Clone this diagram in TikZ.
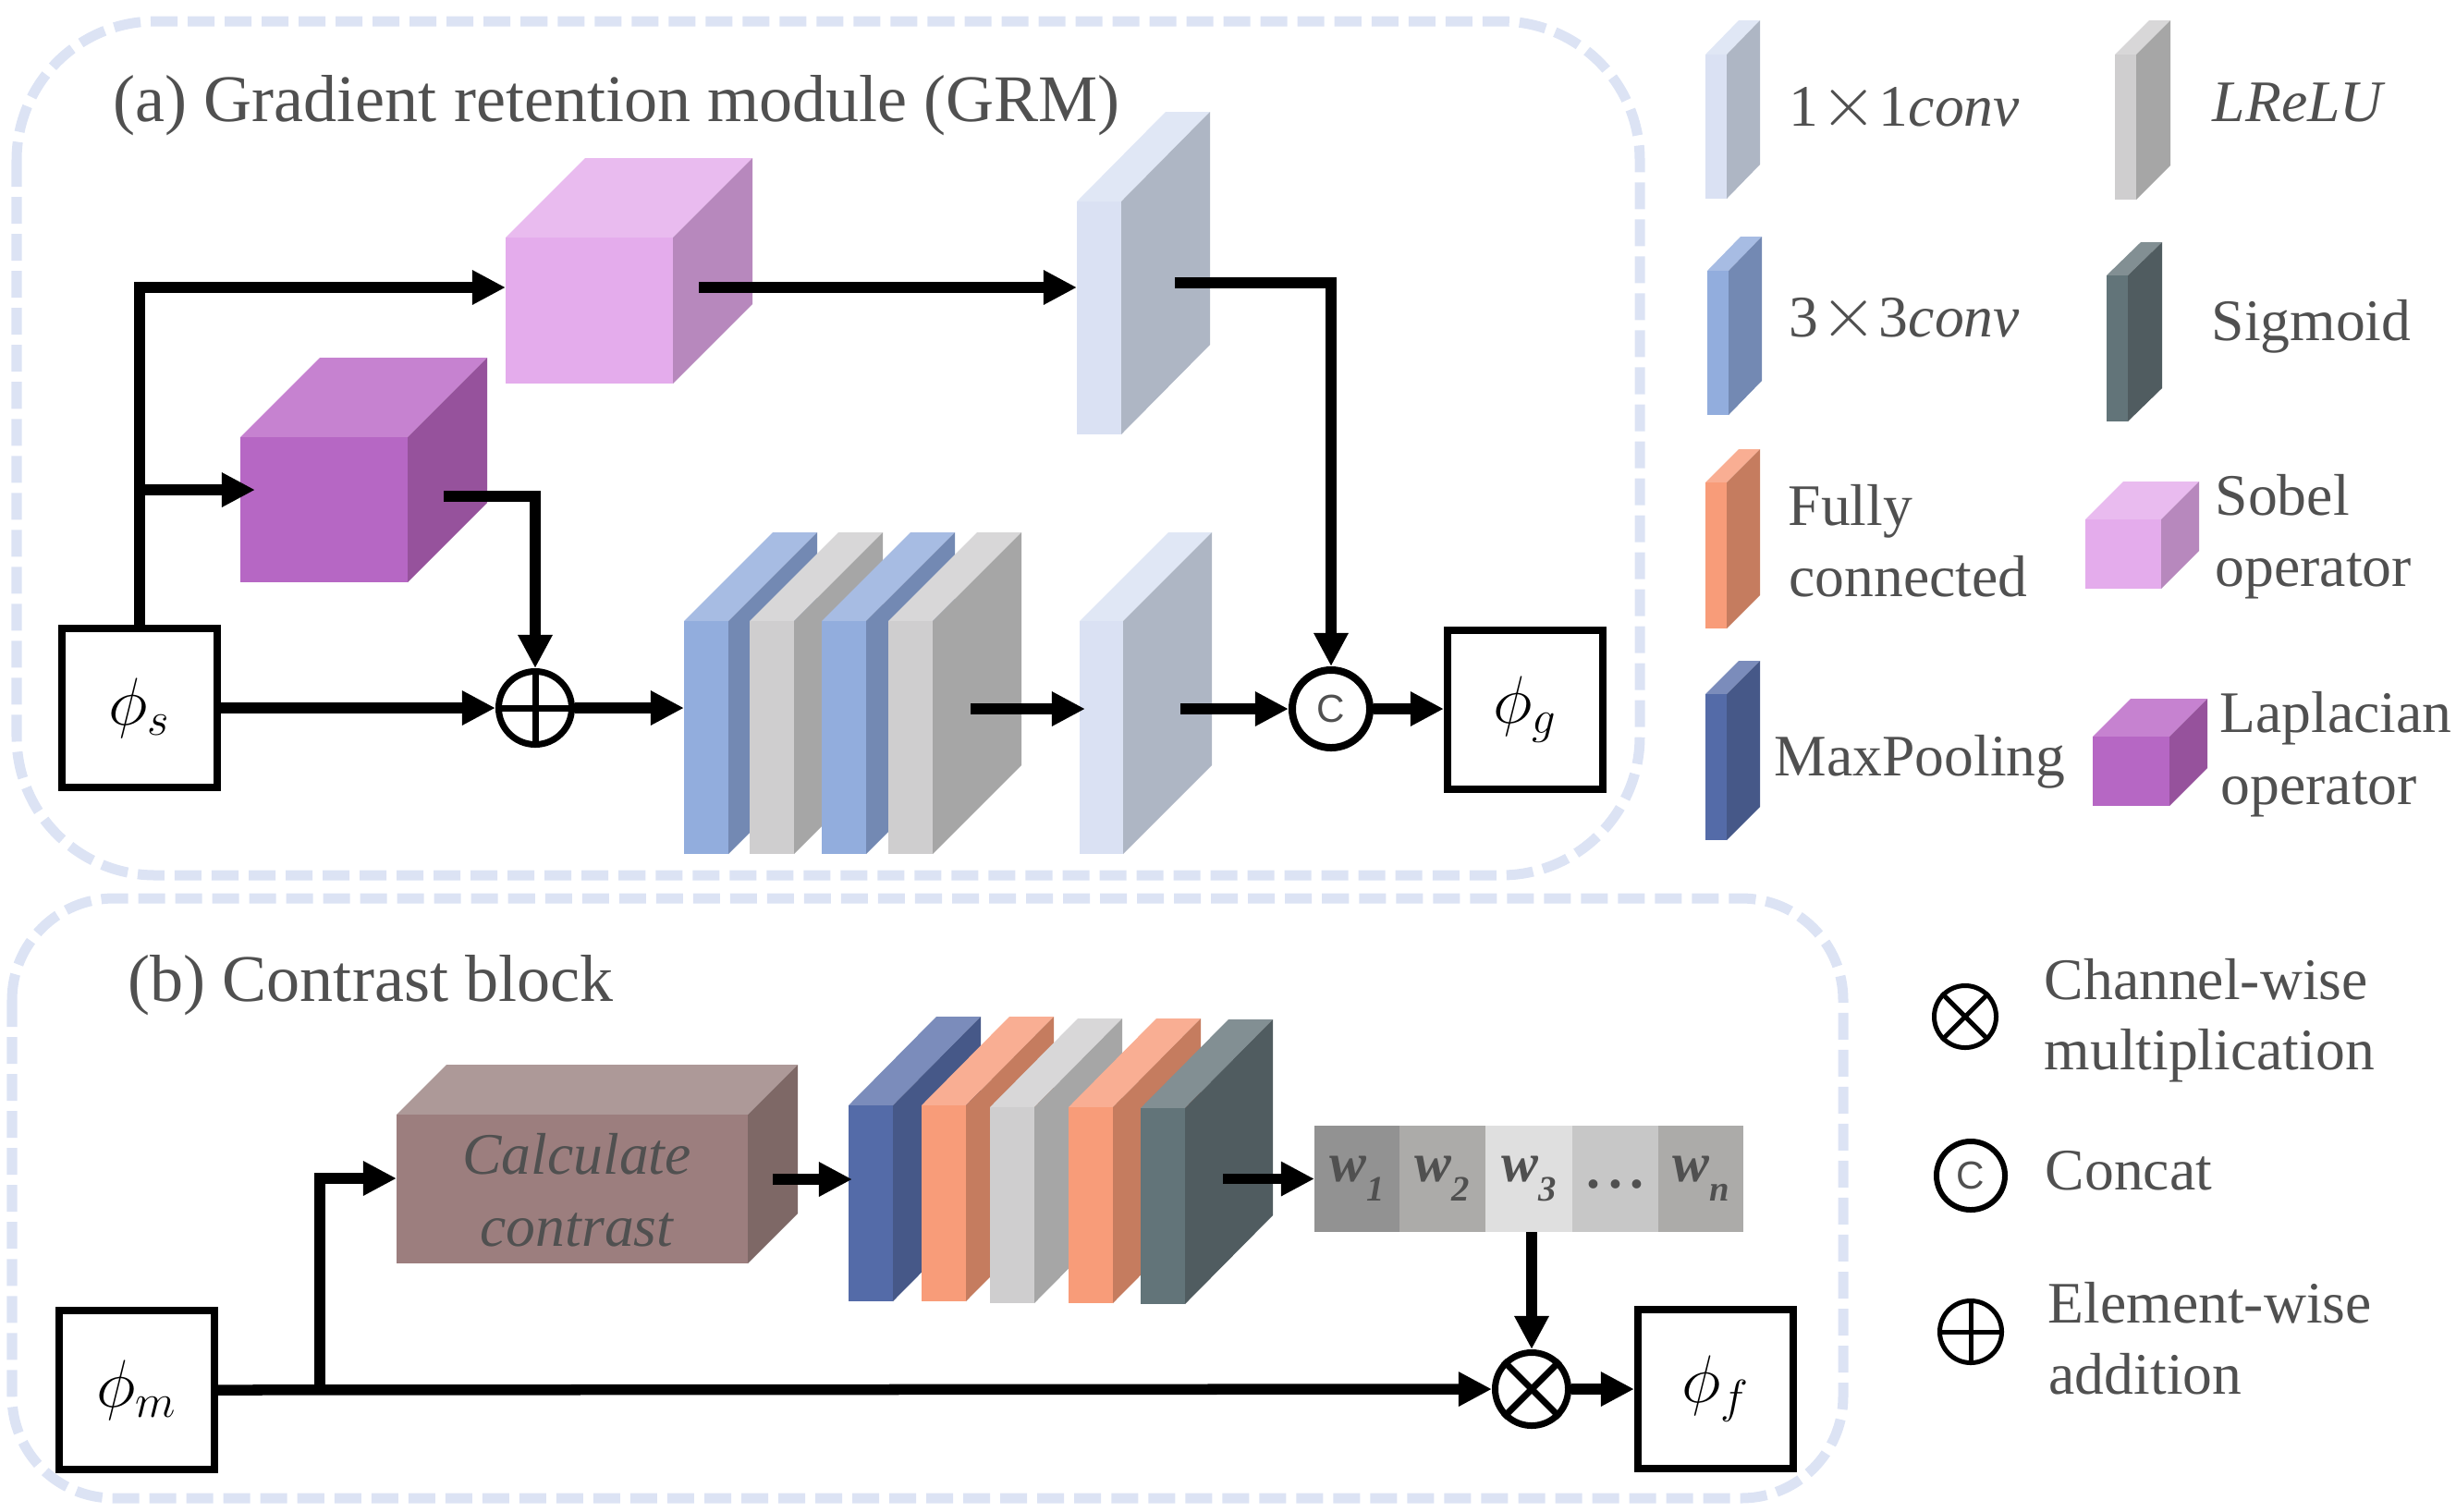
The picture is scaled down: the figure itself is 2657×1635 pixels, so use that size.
\documentclass[tikz,border=0pt]{standalone}
\usepackage{fontspec}
\setmainfont{Liberation Serif}
\setsansfont{Liberation Sans}
\usepackage{tikz}
\usetikzlibrary{arrows.meta}
\definecolor{labelgray}{HTML}{505050}
\definecolor{frameblue}{HTML}{DCE3F4}
\definecolor{oneonefront}{HTML}{DAE1F3}
\definecolor{oneonetop}{HTML}{E0E7F5}
\definecolor{oneoneside}{HTML}{AEB6C4}
\definecolor{threefront}{HTML}{92ADDD}
\definecolor{threetop}{HTML}{A7BCE3}
\definecolor{threeside}{HTML}{7389B3}
\definecolor{relufront}{HTML}{CFCECF}
\definecolor{relutop}{HTML}{D8D7D8}
\definecolor{reluside}{HTML}{A6A6A6}
\definecolor{sigfront}{HTML}{627479}
\definecolor{sigtop}{HTML}{828F93}
\definecolor{sigside}{HTML}{505C60}
\definecolor{fcfront}{HTML}{F89C79}
\definecolor{fctop}{HTML}{F9AE93}
\definecolor{fcside}{HTML}{C57C5F}
\definecolor{poolfront}{HTML}{546BA8}
\definecolor{pooltop}{HTML}{7B8CBB}
\definecolor{poolside}{HTML}{465888}
\definecolor{sobelfront}{HTML}{E4ACEC}
\definecolor{sobeltop}{HTML}{E9BBEF}
\definecolor{sobelside}{HTML}{B788BD}
\definecolor{lapfront}{HTML}{B667C4}
\definecolor{laptop}{HTML}{C682D0}
\definecolor{lapside}{HTML}{96529C}
\definecolor{calcfront}{HTML}{9C7E7E}
\definecolor{calctop}{HTML}{AD9998}
\definecolor{calcside}{HTML}{7E6866}
\definecolor{cellone}{HTML}{929292}
\definecolor{celltwo}{HTML}{ACABA9}
\definecolor{cellthree}{HTML}{DFDFDF}
\definecolor{cellfour}{HTML}{C7C7C7}

% name, left, top, width, height, depth x, depth y, colour prefix
\newcommand{\slab}[8]{%
	\fill[#8top] (#2,#3) -- (#2+#6,#3-#7) -- (#2+#4+#6,#3-#7) -- (#2+#4,#3) -- cycle;
	\fill[#8side] (#2+#4,#3) -- (#2+#4+#6,#3-#7) -- (#2+#4+#6,#3+#5-#7) -- (#2+#4,#3+#5) -- cycle;
	\node[fill=#8front, inner sep=0pt, outer sep=0pt, minimum width=#4*0.01cm, minimum height=#5*0.01cm] (#1) at (#2+#4/2,#3+#5/2) {};
}
\newcommand{\wsub}[1]{\textit{w}\raisebox{-.35em}{\fontsize{11}{11}\selectfont\textit{#1}}}
\newcommand{\timesmark}{\kern.02cm\scalebox{1.3}{$\times$}\kern.02cm}

\tikzset{
	frame/.style={draw=frameblue, line width=.11cm, dash pattern=on .29cm off .11cm},
	flow/.style={line width=.115cm, -{Triangle[length=.36cm, width=.35cm]}},
	phibox/.style={draw=black, fill=white, line width=.08cm, minimum width=1.68cm, minimum height=1.72cm, inner sep=0pt, font=\fontsize{22}{24}\selectfont},
	opnode/.style={circle, draw=black, fill=white, line width=.07cm, minimum size=.79cm, inner sep=0pt},
	legop/.style={circle, draw=black, fill=white, line width=.05cm, minimum size=.67cm, inner sep=0pt},
	concatmark/.style={text=labelgray, font=\sffamily\fontsize{12}{12}\selectfont},
	heading/.style={anchor=base west, inner sep=0pt, text=labelgray, font=\fontsize{20.5}{22}\selectfont},
	legtext/.style={anchor=base west, inner sep=0pt, text=labelgray, font=\fontsize{18.1}{20}\selectfont},
	calctext/.style={anchor=base, inner sep=0pt, text=labelgray, font=\itshape\fontsize{18.1}{20}\selectfont},
	wcell/.style={inner sep=0pt, outer sep=0pt, minimum height=1.15cm, text=labelgray, font=\bfseries\fontsize{17}{19}\selectfont},
}

\begin{document}
\begin{tikzpicture}[x=0.01cm, y=-0.01cm]
	\useasboundingbox (0,-1) rectangle (2657,1634);
	
	% --- dashed frames ---
	\draw[frame, rounded corners=1.5cm] (18,22) rectangle (1774,946);
	\draw[frame, rounded corners=1.1cm] (13,971) rectangle (1994,1620);
	\node[heading] (titlea) at (122,130) {(a) Gradient retention module (GRM)};
	\node[heading] (titleb) at (138,1082) {(b) Contrast block};
	
	% --- GRM blocks ---
	\slab{sobel}{547}{256}{181}{158}{86}{86}{sobel}
	\slab{lap}{260}{472}{181}{157}{86}{86}{lap}
	\slab{convtop}{1165}{217}{48}{252}{96}{97}{oneone}
	\slab{stackone}{740}{671}{48}{252}{96}{96}{three}
	\slab{stacktwo}{811}{671}{48}{252}{96}{96}{relu}
	\slab{stackthree}{889}{671}{48}{252}{96}{96}{three}
	\slab{stackfour}{961}{671}{48}{252}{96}{96}{relu}
	\slab{convlow}{1168}{671}{47}{252}{96}{96}{oneone}
	
	\node[phibox] (phis) at (151,765) {$\phi_s$};
	\node[phibox] (phig) at (1650,767) {$\phi_g$};
	\node[opnode] (plus) at (579,765) {};
	\draw[line width=.07cm] (plus.north) -- (plus.south);
	\draw[line width=.07cm] (plus.west) -- (plus.east);
	\node[opnode, line width=.08cm, minimum size=.84cm, concatmark] (concat) at (1440,766) {C};
	
	% --- GRM arrows ---
	\coordinate (sobelin) at (547,310);
	\coordinate (sobelout) at (756,310);
	\coordinate (lapfork) at (151,529);
	\coordinate (lapin) at (276,529);
	\coordinate (lapout) at (480,536);
	\coordinate (convtopin) at (1165,310);
	\coordinate (convtopout) at (1271,305);
	\coordinate (stackout) at (1050,766);
	\coordinate (convlowin) at (1174,766);
	\coordinate (convlowout) at (1277,766);
	
	\draw[flow] (phis.north) |- (sobelin);
	\draw[flow] (lapfork) -- (lapin);
	\draw[flow] (lapout) -| (plus.north);
	\draw[flow] (phis.east) -- (plus.west);
	\draw[flow] (plus.east) -- (plus.east -| stackone.west);
	\draw[flow] (sobelout) -- (convtopin);
	\draw[flow] (convtopout) -| (concat.north);
	\draw[flow] (stackout) -- (convlowin);
	\draw[flow] (convlowout) -- (concat.west);
	\draw[flow] (concat.east) -- (concat.east -| phig.west);
	
	% --- contrast block ---
	\slab{calc}{429}{1205}{380}{161}{54}{54}{calc}
	\node[calctext] (calcone) at (624,1269) {Calculate};
	\node[calctext] (calctwo) at (624,1347) {contrast};
	\slab{pool}{918}{1195}{48}{212}{95}{96}{pool}
	\slab{fcone}{997}{1195}{48}{212}{95}{96}{fc}
	\slab{relub}{1071}{1197}{48}{212}{95}{96}{relu}
	\slab{fctwo}{1156}{1197}{48}{212}{95}{96}{fc}
	\slab{sig}{1234}{1198}{48}{212}{95}{96}{sig}
	
	\node[wcell, fill=cellone, minimum width=.92cm] (wone) at (1468,1274.5) {\wsub{1}};
	\node[wcell, fill=celltwo, minimum width=.93cm] (wtwo) at (1560.5,1274.5) {\wsub{2}};
	\node[wcell, fill=cellthree, minimum width=.94cm] (wthree) at (1654,1274.5) {\wsub{3}};
	\node[wcell, fill=cellfour, minimum width=.93cm] (wdots) at (1747.5,1274.5) {\raisebox{-.1cm}[0pt][0pt]{.\kern.09cm.\kern.09cm.}};
	\node[wcell, fill=celltwo, minimum width=.92cm] (wlast) at (1840,1274.5) {\wsub{n}};
	
	\node[phibox] (phim) at (148,1503) {$\phi_m$};
	\node[phibox] (phif) at (1856,1502) {$\phi_f$};
	\node[opnode] (mult) at (1657,1502) {};
	\draw[line width=.07cm] (mult.north east) -- (mult.south west);
	\draw[line width=.07cm] (mult.north west) -- (mult.south east);
	
	% --- contrast arrows ---
	\coordinate (calcfork) at (346,1503);
	\coordinate (calcin) at (429,1274);
	\coordinate (calcout) at (836,1275);
	\coordinate (poolin) at (922,1275);
	\coordinate (sigout) at (1323,1274.5);
	
	\draw[flow] (phim.east) -- (mult.west);
	\draw[flow] (calcfork) |- (calcin);
	\draw[flow] (calcout) -- (poolin);
	\draw[flow] (sigout) -- (wone.west);
	\draw[flow] (mult |- wthree.south) -- (mult.north);
	\draw[flow] (mult.east) -- (mult.east -| phif.west);
	
	% --- legend ---
	\slab{legone}{1845}{58}{23}{156}{36}{37}{oneone}
	\slab{legthree}{1847}{292}{23}{156}{36}{37}{three}
	\slab{legfc}{1845}{521}{23}{158}{36}{36}{fc}
	\slab{legpool}{1845}{750}{23}{158}{36}{36}{pool}
	\slab{legrelu}{2288}{58}{23}{157}{37}{37}{relu}
	\slab{legsig}{2279}{297}{23}{158}{37}{36}{sig}
	\slab{legsobel}{2256}{561}{82}{75}{41}{41}{sobel}
	\slab{leglap}{2264}{796}{83}{75}{41}{41}{lap}
	
	\node[legtext] (txtone) at (1935,135) {1\timesmark 1\textit{conv}};
	\node[legtext] (txtthree) at (1935,363) {3\timesmark 3\textit{conv}};
	\node[legtext] (txtfully) at (1934,567) {Fully};
	\node[legtext] (txtconn) at (1935,644) {connected};
	\node[legtext] (txtpool) at (1919,838) {MaxPooling};
	\node[legtext] (txtrelu) at (2393,130) {\textit{LReLU}};
	\node[legtext] (txtsig) at (2392,367) {Sigmoid};
	\node[legtext] (txtsobel) at (2396,556) {Sobel};
	\node[legtext] (txtopa) at (2396,633) {operator};
	\node[legtext] (txtlap) at (2401,791) {Laplacian};
	\node[legtext] (txtopb) at (2402,869) {operator};
	
	\node[legop] (legmult) at (2126,1099) {};
	\draw[line width=.05cm] (legmult.north east) -- (legmult.south west);
	\draw[line width=.05cm] (legmult.north west) -- (legmult.south east);
	\node[legop, line width=.06cm, minimum size=.74cm, concatmark] (legconcat) at (2132,1271) {C};
	\node[legop] (legplus) at (2132,1440) {};
	\draw[line width=.05cm] (legplus.north) -- (legplus.south);
	\draw[line width=.05cm] (legplus.west) -- (legplus.east);
	
	\node[legtext] (txtchan) at (2211,1080) {Channel-wise};
	\node[legtext] (txtmulti) at (2211,1156) {multiplication};
	\node[legtext] (txtconcat) at (2212,1286) {Concat};
	\node[legtext] (txtelem) at (2215,1430) {Element-wise};
	\node[legtext] (txtadd) at (2216,1507) {addition};
\end{tikzpicture}
\end{document}
